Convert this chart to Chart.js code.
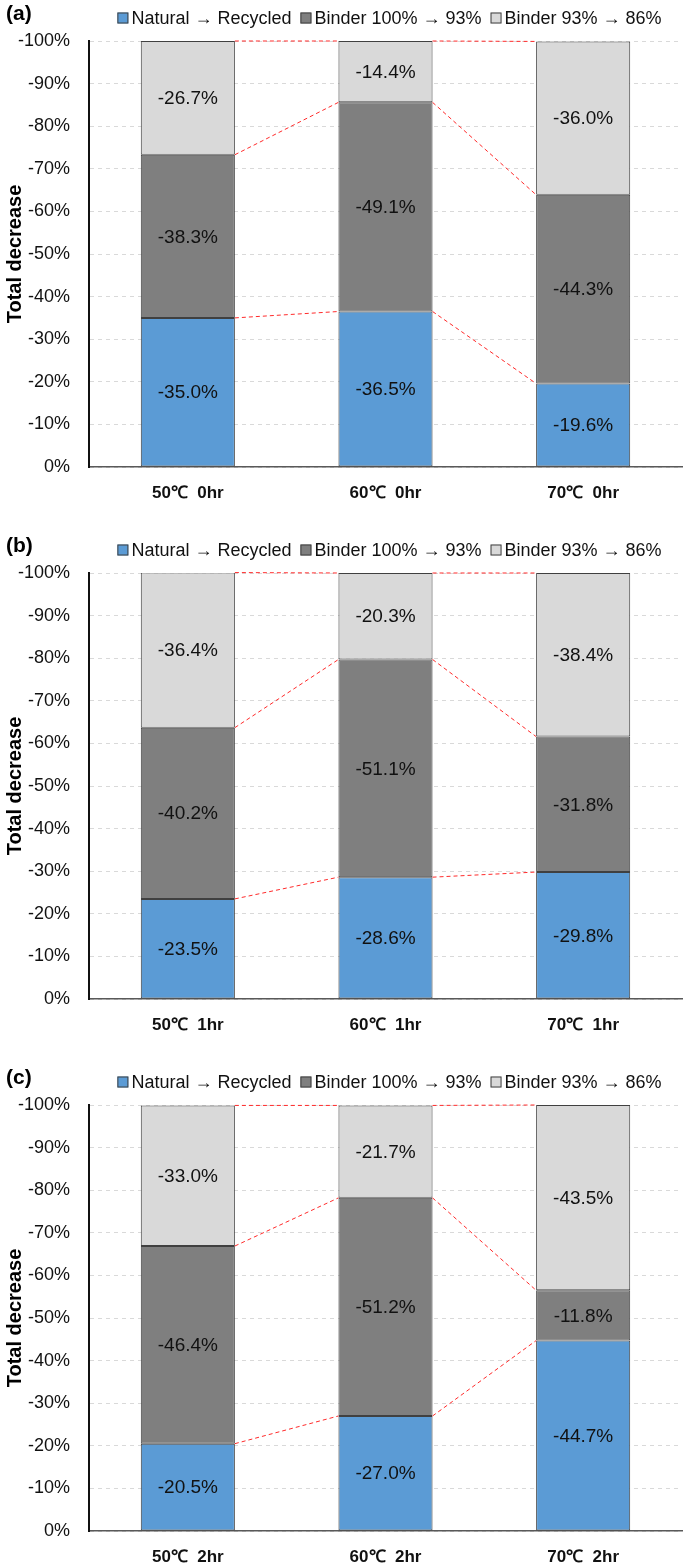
<!DOCTYPE html>
<html>
<head>
<meta charset="utf-8">
<script src="https://cdn.jsdelivr.net/npm/chart.js@4"></script>
<style>
  body { margin: 0; background: #fff; }
  canvas { display: block; }
</style>
</head>
<body>
<canvas id="chartA" width="685" height="532"></canvas>
<canvas id="chartB" width="685" height="532"></canvas>
<canvas id="chartC" width="685" height="500"></canvas>
<script>
// --- data ---
const seriesNames = ['Natural \u2192 Recycled', 'Binder 100% \u2192 93%', 'Binder 93% \u2192 86%'];
const seriesColors = ['#5B9BD5', '#7F7F7F', '#D9D9D9'];

const categoriesA = ['50\u2103  0hr', '60\u2103  0hr', '70\u2103  0hr'];
const naturalA = [-35.0, -36.5, -19.6];
const binder100A = [-38.3, -49.1, -44.3];
const binder93A = [-26.7, -14.4, -36.0];

const categoriesB = ['50\u2103  1hr', '60\u2103  1hr', '70\u2103  1hr'];
const naturalB = [-23.5, -28.6, -29.8];
const binder100B = [-40.2, -51.1, -31.8];
const binder93B = [-36.4, -20.3, -38.4];

const categoriesC = ['50\u2103  2hr', '60\u2103  2hr', '70\u2103  2hr'];
const naturalC = [-20.5, -27.0, -44.7];
const binder100C = [-46.4, -51.2, -11.8];
const binder93C = [-33.0, -21.7, -43.5];

const FONT = "'Liberation Sans', Arial, sans-serif";
const PLOT_TOP = 41;
const PLOT_BOTTOM = 467;

// red dashed series lines + value labels + legend + panel letter
const extrasPlugin = {
    id: 'extras',
    afterDatasetsDraw(chart, args, opts) {
        const ctx = chart.ctx;
        const metas = chart.data.datasets.map((d, i) => chart.getDatasetMeta(i));

        // series lines between bars
        ctx.save();
        ctx.strokeStyle = '#FF2A2A';
        ctx.lineWidth = 1;
        ctx.setLineDash([4, 3]);
        metas.forEach(m => {
            for (let j = 0; j < m.data.length - 1; j++) {
                const a = m.data[j], b = m.data[j + 1];
                ctx.beginPath();
                ctx.moveTo(a.x + a.width / 2, a.y);
                ctx.lineTo(b.x - b.width / 2, b.y);
                ctx.stroke();
            }
        });
        ctx.restore();

        // labels inside segments
        ctx.save();
        ctx.font = '19px ' + FONT;
        ctx.fillStyle = '#111';
        ctx.textAlign = 'center';
        ctx.textBaseline = 'middle';
        metas.forEach((m, i) => {
            m.data.forEach((el, j) => {
                const v = chart.data.datasets[i].data[j];
                ctx.fillText(v.toFixed(1) + '%', el.x, (el.y + el.base) / 2 + 1);
            });
        });
        ctx.restore();

        // legend
        ctx.save();
        ctx.font = '18px ' + FONT;
        ctx.textBaseline = 'middle';
        const box = 11, gap = 3, itemGap = 9;
        const widths = seriesNames.map(n => box + gap + ctx.measureText(n).width);
        const total = widths.reduce((s, w) => s + w, 0) + itemGap * (widths.length - 1);
        const ca = chart.chartArea;
        let x = (ca.left + ca.right) / 2 + 4 - total / 2;
        const y = 18;
        seriesNames.forEach((n, i) => {
            ctx.fillStyle = seriesColors[i];
            ctx.fillRect(x, y - box / 2, box, box);
            ctx.strokeStyle = '#404040';
            ctx.lineWidth = 1;
            ctx.strokeRect(x + 0.5, y - box / 2 + 0.5, box - 1, box - 1);
            ctx.fillStyle = '#111';
            ctx.fillText(n, x + box + gap, y + 1);
            x += widths[i] + itemGap;
        });
        ctx.restore();

        // panel letter
        ctx.save();
        ctx.font = 'bold 21px ' + FONT;
        ctx.fillStyle = '#000';
        ctx.textBaseline = 'middle';
        ctx.fillText(opts.letter, 6, 14);
        ctx.restore();
    }
};

function makeChart(id, letter, labels, natural, binder100, binder93) {
    const canvas = document.getElementById(id);
    const h = canvas.height;
    return new Chart(canvas, {
        type: 'bar',
        data: {
            labels: labels,
            datasets: [natural, binder100, binder93].map((d, i) => ({
                label: seriesNames[i],
                data: d,
                backgroundColor: seriesColors[i],
                borderColor: '#404040',
                borderWidth: 1,
                borderSkipped: false,
                barPercentage: 1,
                categoryPercentage: 0.476
            }))
        },
        options: {
            responsive: false,
            devicePixelRatio: 1,
            animation: false,
            events: [],
            layout: { padding: { top: PLOT_TOP, right: 3, left: 0, bottom: 0 } },
            plugins: {
                legend: { display: false },
                tooltip: { enabled: false },
                extras: { letter: letter }
            },
            scales: {
                x: {
                    stacked: true,
                    grid: { display: false, drawTicks: false },
                    border: { display: true, color: '#595959', width: 1.5 },
                    ticks: {
                        padding: 16,
                        color: '#111',
                        font: { family: FONT, size: 17, weight: 'bold' }
                    },
                    afterFit: s => { s.height = h - PLOT_BOTTOM; }
                },
                y: {
                    stacked: true,
                    reverse: true,
                    min: -100,
                    max: 0,
                    grid: { color: '#D9D9D9', lineWidth: 1, drawTicks: false },
                    border: { display: true, color: '#111', width: 2, dash: [4, 4] },
                    ticks: {
                        stepSize: 10,
                        padding: 19,
                        color: '#111',
                        font: { family: FONT, size: 18 },
                        callback: v => v + '%'
                    },
                    title: {
                        display: true,
                        text: 'Total decrease',
                        color: '#000',
                        font: { family: FONT, size: 20, weight: 'bold' },
                        padding: { top: 3, bottom: 0 }
                    },
                    afterFit: s => { s.width = 89; }
                }
            }
        },
        plugins: [extrasPlugin]
    });
}

makeChart('chartA', '(a)', categoriesA, naturalA, binder100A, binder93A);
makeChart('chartB', '(b)', categoriesB, naturalB, binder100B, binder93B);
makeChart('chartC', '(c)', categoriesC, naturalC, binder100C, binder93C);
</script>
</body>
</html>
